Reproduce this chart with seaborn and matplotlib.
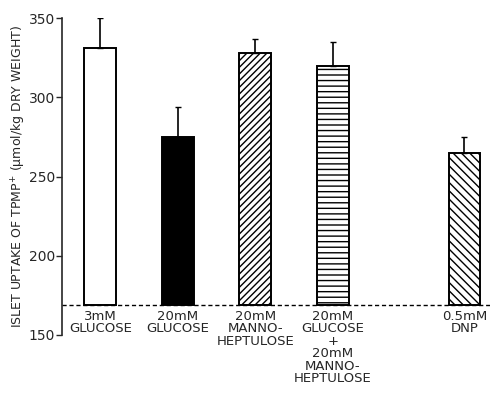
import matplotlib
matplotlib.use("Agg")
import matplotlib.pyplot as plt
import seaborn as sns
import numpy as np

# data
labels = ["3mM\nGLUCOSE", "20mM\nGLUCOSE", "20mM\nMANNO-\nHEPTULOSE",
          "20mM\nGLUCOSE\n+\n20mM\nMANNO-\nHEPTULOSE", "0.5mM\nDNP"]
positions = [0, 1, 2, 3, 4.7]
uptake = [331, 275, 328, 320, 265]
sem = [19, 19, 9, 15, 10]
baseline = 169

sns.set_style("ticks")
plt.rcParams["font.family"] = ["DejaVu Sans"]

fig = plt.figure(figsize=(4.9, 3.95), dpi=100)
ax = fig.add_axes([0.127, 0.152, 0.873, 0.802])

sns.barplot(x=positions, y=uptake, native_scale=True, width=0.41,
            color="white", edgecolor="black", linewidth=1.4, ax=ax)

fills = ["white", "black", "white", "white", "white"]
hatches = [None, None, "/////", "---", "\\\\\\\\"]
for p, fc, h in zip(ax.patches, fills, hatches):
    top = p.get_height()
    p.set_y(baseline)
    p.set_height(top - baseline)
    p.set_facecolor(fc)
    if h:
        p.set_hatch(h)

# upper error bars only
ax.errorbar(positions, uptake, yerr=[np.zeros(len(sem)), sem], fmt="none",
            ecolor="black", elinewidth=1.2, capsize=2.5, capthick=1)

ax.axhline(baseline, color="black", lw=1, ls=(0, (3, 2)))

for x, lab in zip(positions, labels):
    ax.text(x, baseline - 3, lab, ha="center", va="top", fontsize=9.5,
            linespacing=0.95, clip_on=False)

ax.set_xlim(-0.49, 5.03)
ax.set_ylim(150, 350)
ax.set_yticks([150, 200, 250, 300, 350])
ax.set_xticks([])
ax.tick_params(axis="y", labelsize=10, length=4, width=1, pad=1,
               direction="out")
ax.set_ylabel("ISLET UPTAKE OF TPMP$^{+}$ (µmol/kg DRY WEIGHT)", fontsize=9)
ax.yaxis.set_label_coords(-0.08, 0.5)
sns.despine(ax=ax, bottom=True)
ax.spines["left"].set_linewidth(1.2)

fig.savefig("out.png", dpi=100)
